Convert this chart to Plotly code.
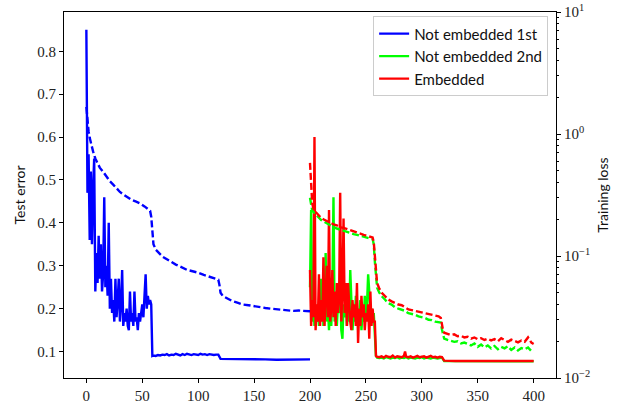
import plotly.graph_objects as go

# ---------------- data ----------------
# Not embedded 1st: test error (left axis)
blue_err_x = list(range(0, 60)) + [60, 62, 64, 66, 68, 70, 72, 74, 76, 78, 80, 82, 84, 86, 88, 90, 92, 94, 96, 98,
                                    100, 102, 104, 106, 108, 110, 112, 114, 116, 118, 120, 125, 130, 140, 150, 160,
                                    170, 180, 190, 200]
blue_err_y = [0.85, 0.47, 0.56, 0.36, 0.52, 0.35, 0.48, 0.55, 0.24, 0.33,
              0.26, 0.37, 0.27, 0.35, 0.24, 0.28, 0.46, 0.25, 0.30, 0.23,
              0.40, 0.20, 0.27, 0.19, 0.22, 0.17, 0.27, 0.18, 0.22, 0.27,
              0.17, 0.21, 0.29, 0.16, 0.19, 0.17, 0.20, 0.16, 0.15, 0.24,
              0.17, 0.19, 0.16, 0.24, 0.17, 0.18, 0.15, 0.19, 0.17, 0.20,
              0.21, 0.18, 0.22, 0.28, 0.20, 0.23, 0.21, 0.22, 0.21, 0.09,
              0.091, 0.090, 0.092, 0.091, 0.093, 0.092, 0.094, 0.091, 0.093, 0.092,
              0.095, 0.093, 0.091, 0.094, 0.092, 0.095, 0.093, 0.092, 0.094, 0.093,
              0.092, 0.095, 0.093, 0.094, 0.092, 0.094, 0.093, 0.092, 0.093, 0.093,
              0.083, 0.083, 0.082, 0.082, 0.082, 0.082, 0.081, 0.081, 0.082, 0.082]

# Not embedded 1st: training loss (right axis)
blue_loss_x = [0, 1, 2, 3, 4, 5, 6, 8, 10, 12, 15, 18, 21, 24, 27, 30, 33, 36, 40, 44, 48, 52, 55, 57, 58, 59, 60,
               62, 65, 68, 72, 76, 80, 85, 90, 95, 100, 105, 110, 115, 118, 119, 120, 122, 126, 130, 135, 140, 145,
               150, 155, 160, 165, 170, 175, 180, 185, 190, 195, 200]
blue_loss_y = [1.67, 1.25, 1.05, 0.93, 0.84, 0.77, 0.72, 0.63, 0.57, 0.53, 0.49, 0.445, 0.41, 0.385, 0.36, 0.335,
               0.32, 0.305, 0.29, 0.28, 0.27, 0.255, 0.245, 0.235, 0.21, 0.15, 0.125, 0.113, 0.105, 0.099, 0.094,
               0.089, 0.085, 0.081, 0.077, 0.075, 0.073, 0.070, 0.068, 0.066, 0.064, 0.058, 0.050, 0.047, 0.045,
               0.043, 0.0415, 0.040, 0.0395, 0.039, 0.0385, 0.0375, 0.037, 0.0365, 0.036, 0.036, 0.0355, 0.0357,
               0.0355, 0.0352]

# Not embedded 2nd: test error
green_err_x = list(range(200, 261)) + [262, 264, 266, 268, 270, 272, 274, 276, 278, 280, 282, 284, 286, 288, 290,
                                       292, 294, 296, 298, 300, 302, 304, 306, 308, 310, 312, 314, 316, 318, 320,
                                       340, 360, 380, 400]
green_err_y = [0.25, 0.43, 0.17, 0.22, 0.16, 0.19, 0.17, 0.21, 0.16, 0.27,
               0.19, 0.27, 0.16, 0.21, 0.33, 0.17, 0.20, 0.15, 0.22, 0.16,
               0.24, 0.46, 0.17, 0.22, 0.16, 0.21, 0.19, 0.27, 0.15, 0.13,
               0.21, 0.18, 0.24, 0.16, 0.20, 0.17, 0.29, 0.22, 0.15, 0.19,
               0.17, 0.23, 0.16, 0.20, 0.18, 0.22, 0.15, 0.19, 0.17, 0.23,
               0.18, 0.21, 0.28, 0.24, 0.19, 0.20, 0.18, 0.19, 0.15, 0.09, 0.086,
               0.085, 0.086, 0.084, 0.087, 0.085, 0.084, 0.086, 0.085, 0.087, 0.084,
               0.086, 0.085, 0.087, 0.084, 0.086, 0.085, 0.084, 0.086, 0.085, 0.087,
               0.084, 0.086, 0.085, 0.084, 0.086, 0.085, 0.084, 0.085, 0.086, 0.078,
               0.0775, 0.0775, 0.0775, 0.0775]

# Not embedded 2nd: training loss
green_loss_x = [200, 201, 202, 204, 206, 208, 210, 212, 215, 218, 221, 224, 227, 230, 233, 236, 239, 242, 245, 248,
                251, 254, 256, 257, 258, 259, 260, 262, 264, 267, 270, 273, 276, 279, 282, 285, 288, 291, 294, 297,
                300, 303, 306, 309, 312, 315, 317, 318, 319, 320, 323, 326, 329, 332, 335, 338, 341, 344, 347, 350,
                353, 356, 359, 362, 365, 368, 371, 374, 377, 380, 383, 386, 389, 392, 395, 398, 400]
green_loss_y = [0.30, 0.25, 0.235, 0.225, 0.215, 0.205, 0.197, 0.192, 0.185, 0.178, 0.173, 0.168, 0.164, 0.160,
                0.157, 0.154, 0.151, 0.149, 0.146, 0.144, 0.141, 0.139, 0.138, 0.125, 0.090, 0.063, 0.055, 0.050,
                0.047, 0.044, 0.041, 0.040, 0.038, 0.037, 0.036, 0.0355, 0.034, 0.0335, 0.033, 0.032, 0.0315, 0.031,
                0.030, 0.0298, 0.029, 0.0288, 0.0285, 0.025, 0.022, 0.021, 0.0205, 0.020, 0.0198, 0.020, 0.0192,
                0.0195, 0.019, 0.0185, 0.0192, 0.018, 0.0188, 0.0178, 0.0185, 0.0175, 0.0183, 0.0172, 0.018,
                0.0175, 0.0182, 0.017, 0.0178, 0.0168, 0.0176, 0.0172, 0.0178, 0.0166, 0.0168]

# Embedded: test error
red_err_x = list(range(200, 261)) + [262, 264, 266, 268, 270, 272, 274, 276, 278, 280, 282, 284, 285, 286, 288, 290,
                                     292, 294, 296, 298, 300, 302, 304, 306, 308, 310, 312, 314, 316, 318, 320, 330,
                                     340, 350, 360, 370, 380, 390, 400]
red_err_y = [0.29, 0.16, 0.22, 0.18, 0.60, 0.15, 0.21, 0.17, 0.28, 0.16,
             0.22, 0.17, 0.32, 0.16, 0.23, 0.30, 0.18, 0.43, 0.17, 0.20,
             0.29, 0.18, 0.24, 0.16, 0.26, 0.19, 0.22, 0.47, 0.17, 0.24,
             0.41, 0.19, 0.26, 0.16, 0.26, 0.20, 0.17, 0.15, 0.22, 0.18,
             0.21, 0.16, 0.26, 0.12, 0.20, 0.16, 0.23, 0.18, 0.21, 0.15,
             0.19, 0.17, 0.21, 0.13, 0.24, 0.16, 0.20, 0.17, 0.17, 0.09, 0.088,
             0.087, 0.089, 0.086, 0.090, 0.088, 0.087, 0.091, 0.086, 0.089, 0.088,
             0.087, 0.090, 0.100, 0.088, 0.087, 0.089, 0.086, 0.088, 0.090, 0.087,
             0.088, 0.089, 0.086, 0.088, 0.090, 0.087, 0.088, 0.086, 0.088, 0.087,
             0.079, 0.078, 0.078, 0.078, 0.078, 0.078, 0.078, 0.078, 0.078]

# Embedded: training loss
red_loss_x = [200, 201, 202, 203, 204, 206, 208, 210, 212, 215, 218, 221, 224, 227, 230, 233, 236, 239, 242, 245,
              248, 251, 254, 256, 257, 258, 259, 260, 262, 264, 267, 270, 273, 276, 279, 282, 285, 288, 291, 294,
              297, 300, 303, 306, 309, 312, 315, 317, 318, 319, 320, 323, 326, 329, 332, 335, 338, 341, 344, 347,
              350, 353, 356, 359, 362, 365, 368, 371, 374, 377, 380, 383, 386, 389, 392, 395, 398, 400]
red_loss_y = [0.58, 0.34, 0.27, 0.245, 0.232, 0.225, 0.215, 0.205, 0.200, 0.193, 0.188, 0.182, 0.178, 0.172, 0.170,
              0.166, 0.162, 0.158, 0.155, 0.152, 0.149, 0.146, 0.143, 0.142, 0.130, 0.095, 0.068, 0.060, 0.054,
              0.050, 0.047, 0.044, 0.0425, 0.041, 0.040, 0.0395, 0.038, 0.0365, 0.036, 0.0355, 0.035, 0.0345,
              0.034, 0.0335, 0.033, 0.0325, 0.032, 0.031, 0.027, 0.0245, 0.0235, 0.023, 0.0225, 0.0228, 0.022,
              0.0222, 0.0215, 0.0218, 0.021, 0.0215, 0.0208, 0.0212, 0.0205, 0.021, 0.0203, 0.0208, 0.020, 0.0212,
              0.0204, 0.0198, 0.0206, 0.0201, 0.0196, 0.0203, 0.0198, 0.0215, 0.0195, 0.019]

series_names = ["Not embedded 1st", "Not embedded 2nd", "Embedded"]
series_colors = ["#0000ff", "#00ff00", "#ff0000"]

left_ticks = [0.1, 0.2, 0.3, 0.4, 0.5, 0.6, 0.7, 0.8]
left_labels = ["0.1", "0.2", "0.3", "0.4", "0.5", "0.6", "0.7", "0.8"]
right_ticks = [0.01, 0.1, 1, 10]
right_labels = ["10<sup>\u22122</sup>", "10<sup>\u22121</sup>", "10<sup>0</sup>", "10<sup>1</sup>"]
right_minor = [0.02, 0.03, 0.04, 0.05, 0.06, 0.07, 0.08, 0.09,
               0.2, 0.3, 0.4, 0.5, 0.6, 0.7, 0.8, 0.9,
               2, 3, 4, 5, 6, 7, 8, 9]
x_ticks = [0, 50, 100, 150, 200, 250, 300, 350, 400]

# ---------------- figure ----------------
fig = go.Figure()
LW = 2.4
DASH = "7px,3px"

err_sets = [(blue_err_x, blue_err_y), (green_err_x, green_err_y), (red_err_x, red_err_y)]
loss_sets = [(blue_loss_x, blue_loss_y), (green_loss_x, green_loss_y), (red_loss_x, red_loss_y)]

for (xs, ys), name, col in zip(err_sets, series_names, series_colors):
    fig.add_trace(go.Scatter(x=xs, y=ys, mode="lines", name=name,
                             line=dict(color=col, width=LW), yaxis="y", showlegend=True))
for (xs, ys), name, col in zip(loss_sets, series_names, series_colors):
    fig.add_trace(go.Scatter(x=xs, y=ys, mode="lines", name=name + " loss",
                             line=dict(color=col, width=LW, dash=DASH), yaxis="y2", showlegend=False))

tick_font = dict(family="Liberation Serif, DejaVu Serif, serif", size=15, color="#222")
label_font = dict(family="Lato, DejaVu Sans, sans-serif", size=14, color="#111")

fig.update_layout(
    width=623, height=407,
    margin=dict(l=64, r=67, t=12, b=29, autoexpand=False),
    paper_bgcolor="white", plot_bgcolor="white",
    xaxis=dict(range=[-20, 420], tickmode="array", tickvals=x_ticks, automargin=False,
               ticks="outside", ticklen=4, tickwidth=1, tickcolor="black",
               showline=True, linecolor="black", linewidth=1.2, mirror=True,
               showgrid=False, zeroline=False, tickfont=tick_font),
    yaxis=dict(range=[0.0385, 0.8915], tickmode="array", tickvals=left_ticks, ticktext=left_labels,
               automargin=False,
               ticks="outside", ticklen=4, tickwidth=1, tickcolor="black",
               showline=True, linecolor="black", linewidth=1.2,
               showgrid=False, zeroline=False, tickfont=tick_font,
               title=dict(text="Test error", font=label_font, standoff=8)),
    yaxis2=dict(type="log", range=[-2, 1], overlaying="y", side="right", automargin=False,
                tickmode="array", tickvals=right_ticks, ticktext=right_labels,
                ticks="outside", ticklen=4, tickwidth=1, tickcolor="black",
                minor=dict(tickmode="array", tickvals=right_minor, ticks="outside",
                           ticklen=2, tickwidth=0.8, tickcolor="black", showgrid=False),
                showline=True, linecolor="black", linewidth=1.2,
                showgrid=False, zeroline=False, tickfont=tick_font,
                title=dict(text="Training loss", font=label_font, standoff=8)),
    legend=dict(x=0.984, xanchor="right", y=0.988, yanchor="top",
                bgcolor="rgba(255,255,255,0.85)", bordercolor="#cccccc", borderwidth=1,
                font=dict(family="Lato, DejaVu Sans, sans-serif", size=15, color="#111"),
                tracegroupgap=0, itemwidth=30),
)

fig.write_html("out.html", config={"displayModeBar": False},
               post_script="document.body.style.margin='0px';document.body.style.overflow='hidden';")
